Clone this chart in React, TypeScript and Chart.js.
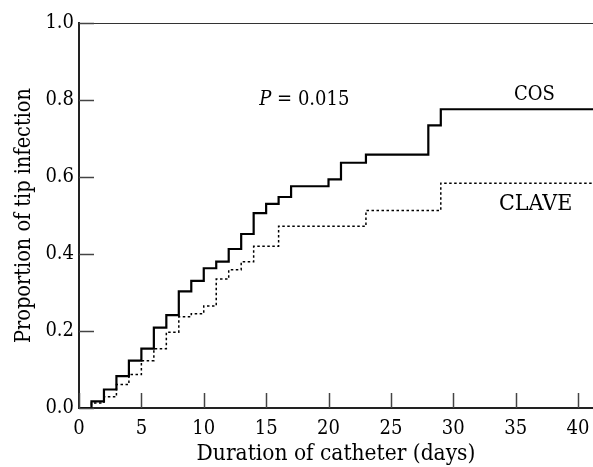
import React, { useEffect, useRef } from "react";
import { Chart, registerables } from "chart.js";

Chart.register(...registerables);

const cosDays = [0, 1, 2, 3, 4, 5, 6, 7, 8, 9, 10, 11, 12, 13, 14, 15, 16, 17, 20, 21, 23, 28, 29, 41.2];
const cosValues = [0, 0.017, 0.048, 0.083, 0.123, 0.154, 0.209, 0.241, 0.303, 0.33, 0.363, 0.38, 0.413, 0.452, 0.506, 0.53, 0.548, 0.576, 0.594, 0.637, 0.658, 0.734, 0.776, 0.776];

const claveDays = [0, 1, 2, 3, 4, 5, 6, 7, 8, 9, 10, 11, 12, 13, 14, 16, 23, 29, 41.2];
const claveValues = [0, 0.013, 0.029, 0.061, 0.087, 0.123, 0.154, 0.197, 0.237, 0.245, 0.265, 0.335, 0.359, 0.38, 0.42, 0.472, 0.513, 0.584, 0.584];

const xTicks = [0, 5, 10, 15, 20, 25, 30, 35, 40];
const yTicks = [0, 0.2, 0.4, 0.6, 0.8, 1.0];

const FONT = "'DejaVu Serif Condensed', 'DejaVu Serif', serif";

const annotations = [
  { x: 14.45, y: 0.8, italic: "P", text: " = 0.015", align: "left", size: 20 },
  { x: 36.5, y: 0.813, italic: "", text: "COS", align: "center", size: 20 },
  { x: 36.6, y: 0.53, italic: "", text: "CLAVE", align: "center", size: 23 },
];

const decorPlugin = {
  id: "decor",
  afterDraw(chart: any) {
    const ctx = chart.ctx;
    const { chartArea } = chart;
    const xs = chart.scales.x;
    const ys = chart.scales.y;
    ctx.save();
    // top border
    ctx.strokeStyle = "#333";
    ctx.lineWidth = 1.2;
    ctx.beginPath();
    ctx.moveTo(chartArea.left, chartArea.top + 0.5);
    ctx.lineTo(chartArea.right, chartArea.top + 0.5);
    ctx.stroke();
    // inward ticks
    ctx.strokeStyle = "#444";
    ctx.lineWidth = 1.5;
    const len = 15;
    xTicks.forEach((t) => {
      const px = Math.round(xs.getPixelForValue(t)) + 0.5;
      ctx.beginPath();
      ctx.moveTo(px, chartArea.bottom);
      ctx.lineTo(px, chartArea.bottom - len);
      ctx.stroke();
    });
    yTicks.forEach((t) => {
      const py = Math.round(ys.getPixelForValue(t)) + 0.5;
      ctx.beginPath();
      ctx.moveTo(chartArea.left, py);
      ctx.lineTo(chartArea.left + len, py);
      ctx.stroke();
    });
    // annotations
    ctx.fillStyle = "#000";
    ctx.textBaseline = "middle";
    annotations.forEach((a) => {
      const px = xs.getPixelForValue(a.x);
      const py = ys.getPixelForValue(a.y);
      ctx.font = `${a.size}px ${FONT}`;
      const w = ctx.measureText(a.text).width;
      ctx.font = `italic ${a.size}px ${FONT}`;
      const wi = a.italic ? ctx.measureText(a.italic).width : 0;
      let start = px;
      if (a.align === "center") start = px - (w + wi) / 2;
      ctx.textAlign = "left";
      if (a.italic) {
        ctx.font = `italic ${a.size}px ${FONT}`;
        ctx.fillText(a.italic, start, py);
      }
      ctx.font = `${a.size}px ${FONT}`;
      ctx.fillText(a.text, start + wi, py);
    });
    ctx.restore();
  },
};

export default function App() {
  const ref = useRef<HTMLCanvasElement>(null);
  useEffect(() => {
    if (!ref.current) return;
    const chart = new Chart(ref.current, {
      type: "line",
      data: {
        datasets: [
          {
            label: "COS",
            data: cosDays.map((d, i) => ({ x: d, y: cosValues[i] })),
            borderColor: "#000",
            borderWidth: 2.2,
            stepped: "before",
            pointRadius: 0,
            fill: false,
          },
          {
            label: "CLAVE",
            data: claveDays.map((d, i) => ({ x: d, y: claveValues[i] })),
            borderColor: "#000",
            borderWidth: 1.5,
            borderDash: [2.5, 2.5],
            stepped: "before",
            pointRadius: 0,
            fill: false,
          },
        ],
      },
      plugins: [decorPlugin],
      options: {
        animation: false,
        responsive: false,
        devicePixelRatio: 1,
        layout: { padding: { top: 23, right: 0, left: 0, bottom: 0 } },
        plugins: { legend: { display: false }, tooltip: { enabled: false } },
        scales: {
          x: {
            type: "linear",
            min: 0,
            max: 41.2,
            afterBuildTicks: (s: any) => {
              s.ticks = xTicks.map((v) => ({ value: v }));
            },
            afterFit: (s: any) => {
              s.height = 59;
              s.paddingLeft = 0;
              s.paddingRight = 0;
            },
            grid: { display: false, drawTicks: false },
            border: { display: true, color: "#222", width: 2 },
            ticks: {
              color: "#000",
              font: { family: FONT, size: 20 },
              padding: 9,
              maxRotation: 0,
            },
            title: {
              display: true,
              text: "Duration of catheter (days)",
              color: "#000",
              font: { family: FONT, size: 22.5 },
              padding: { top: 0, bottom: -1 },
            },
          },
          y: {
            type: "linear",
            min: 0,
            max: 1,
            afterBuildTicks: (s: any) => {
              s.ticks = yTicks.map((v) => ({ value: v }));
            },
            afterFit: (s: any) => {
              s.width = 79;
              s.paddingTop = 0;
              s.paddingBottom = 0;
            },
            grid: { display: false, drawTicks: false },
            border: { display: true, color: "#222", width: 2 },
            ticks: {
              color: "#000",
              font: { family: FONT, size: 20 },
              padding: 5,
              callback: (v: any) => Number(v).toFixed(1),
            },
            title: {
              display: true,
              text: "Proportion of tip infection",
              color: "#000",
              font: { family: FONT, size: 21.5 },
              padding: { top: 12, bottom: 0 },
            },
          },
        },
      },
    } as any);
    return () => chart.destroy();
  }, []);
  return (
    <div style={{ position: "fixed", left: 0, top: 0, width: 593, height: 467, background: "#fff" }}>
      <canvas ref={ref} width={593} height={467} />
    </div>
  );
}
